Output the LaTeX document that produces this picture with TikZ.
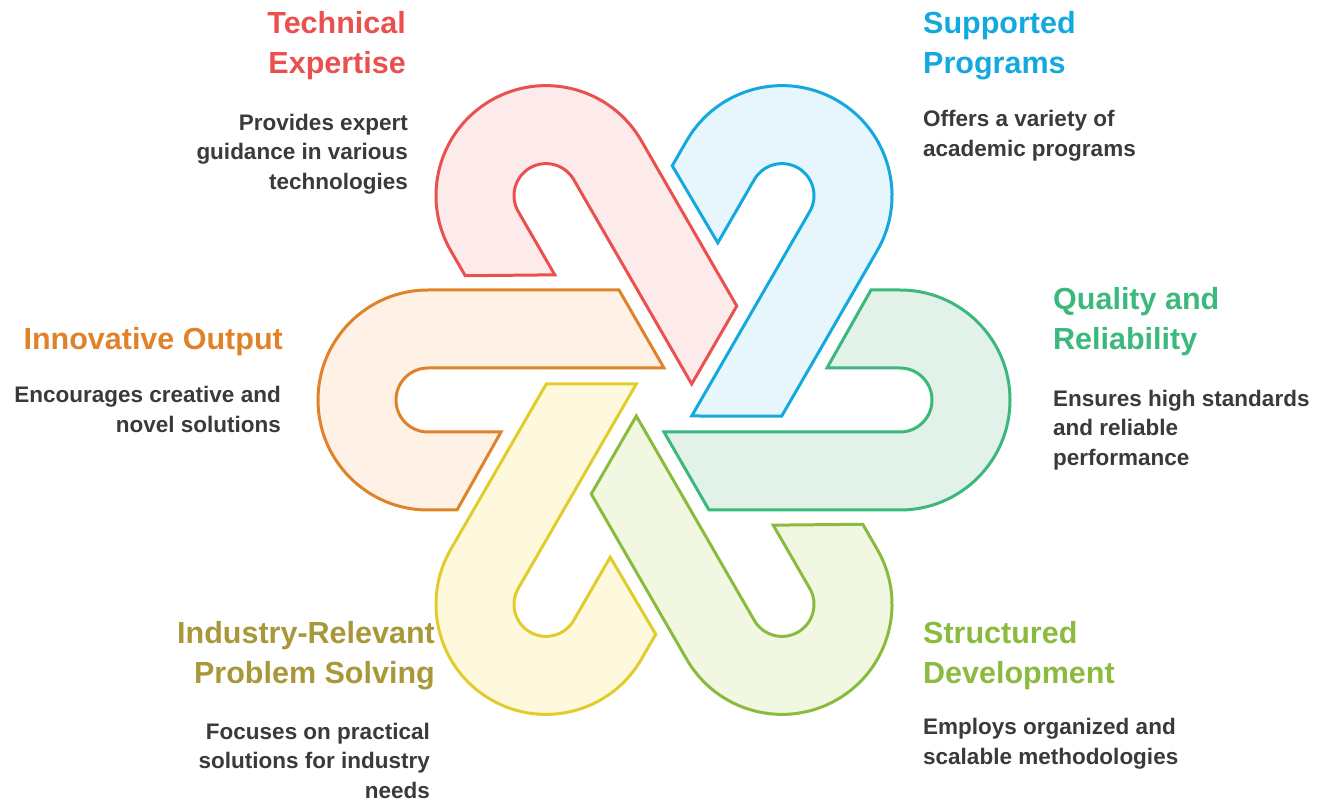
\documentclass[tikz,border=0pt]{standalone}
\usepackage{fontspec}
\setmainfont{Liberation Sans}
\usepackage{tikz}
\usetikzlibrary{positioning}

\definecolor{techline}{HTML}{E9504E}
\definecolor{techfill}{HTML}{FDEBEC}
\definecolor{progline}{HTML}{14A9DE}
\definecolor{progfill}{HTML}{E7F6FD}
\definecolor{qualline}{HTML}{3BB97D}
\definecolor{qualfill}{HTML}{E3F2E9}
\definecolor{structline}{HTML}{8BBB3E}
\definecolor{structfill}{HTML}{F2F7E1}
\definecolor{indline}{HTML}{E2CC2C}
\definecolor{indfill}{HTML}{FEF9DC}
\definecolor{indtext}{HTML}{A8983A}
\definecolor{innoline}{HTML}{E0822A}
\definecolor{innofill}{HTML}{FEF2E7}
\definecolor{bodytext}{HTML}{3A3A3A}

\tikzstyle{piece}=[line width=3pt]
\tikzstyle{head}=[font=\fontsize{30.5}{39.5}\selectfont\bfseries,inner sep=0pt]
\tikzstyle{desc}=[font=\fontsize{22.5}{29.5}\selectfont\bfseries,text=bodytext,inner sep=0pt]
\tikzset{hook/.pic={
  \draw[pic actions] (-236,110) -- (-45,110) -- (0,32) -- (-236,32)
    arc[start angle=90,end angle=270,radius=32] -- (-163,-32) -- (-207,-110) -- (-236,-110)
    arc[start angle=270,end angle=90,radius=110] -- cycle;
}}

\begin{document}
\begin{tikzpicture}[x=1pt,y=1pt]
	\useasboundingbox (0,0) rectangle (1325,801);
	\coordinate (O) at (664,401);

	% the six hooks
	\pic[piece,draw=innoline,fill=innofill] at (O) {hook};
	\pic[piece,draw=techline,fill=techfill,rotate=-60] at (O) {hook};
	\pic[piece,draw=progline,fill=progfill,rotate=-120] at (O) {hook};
	\pic[piece,draw=qualline,fill=qualfill,rotate=180] at (O) {hook};
	\pic[piece,draw=structline,fill=structfill,rotate=120] at (O) {hook};
	\pic[piece,draw=indline,fill=indfill,rotate=60] at (O) {hook};

	% labels
	\node (tech) [head,text=techline,anchor=east,align=right] at (406,755.5) {Technical\\Expertise};
	\node (techd) [desc,anchor=east,align=right] at (408,647) {Provides expert\\guidance in various\\technologies};
	\node (prog) [head,text=progline,anchor=west,align=left] at (923,755.5) {Supported\\Programs};
	\node (progd) [desc,anchor=west,align=left] at (923,665.5) {Offers a variety of\\academic programs};
	\node (qual) [head,text=qualline,anchor=west,align=left] at (1053,479.5) {Quality and\\Reliability};
	\node (quald) [desc,anchor=west,align=left] at (1053,371) {Ensures high standards\\and reliable\\performance};
	\node (inno) [head,text=innoline,anchor=east,align=right] at (283,459.5) {Innovative Output};
	\node (innod) [desc,anchor=east,align=right] at (281,391.5) {Encourages creative and\\novel solutions};
	\node (ind) [head,text=indtext,anchor=east,align=right] at (435,145.5) {Industry-Relevant\\Problem Solving};
	\node (indd) [desc,anchor=east,align=right] at (430,40.5) {Focuses on practical\\solutions for industry\\needs};
	\node (struct) [head,text=structline,anchor=west,align=left] at (923,145.5) {Structured\\Development};
	\node (structd) [desc,anchor=west,align=left] at (923,57.5) {Employs organized and\\scalable methodologies};
\end{tikzpicture}
\end{document}
